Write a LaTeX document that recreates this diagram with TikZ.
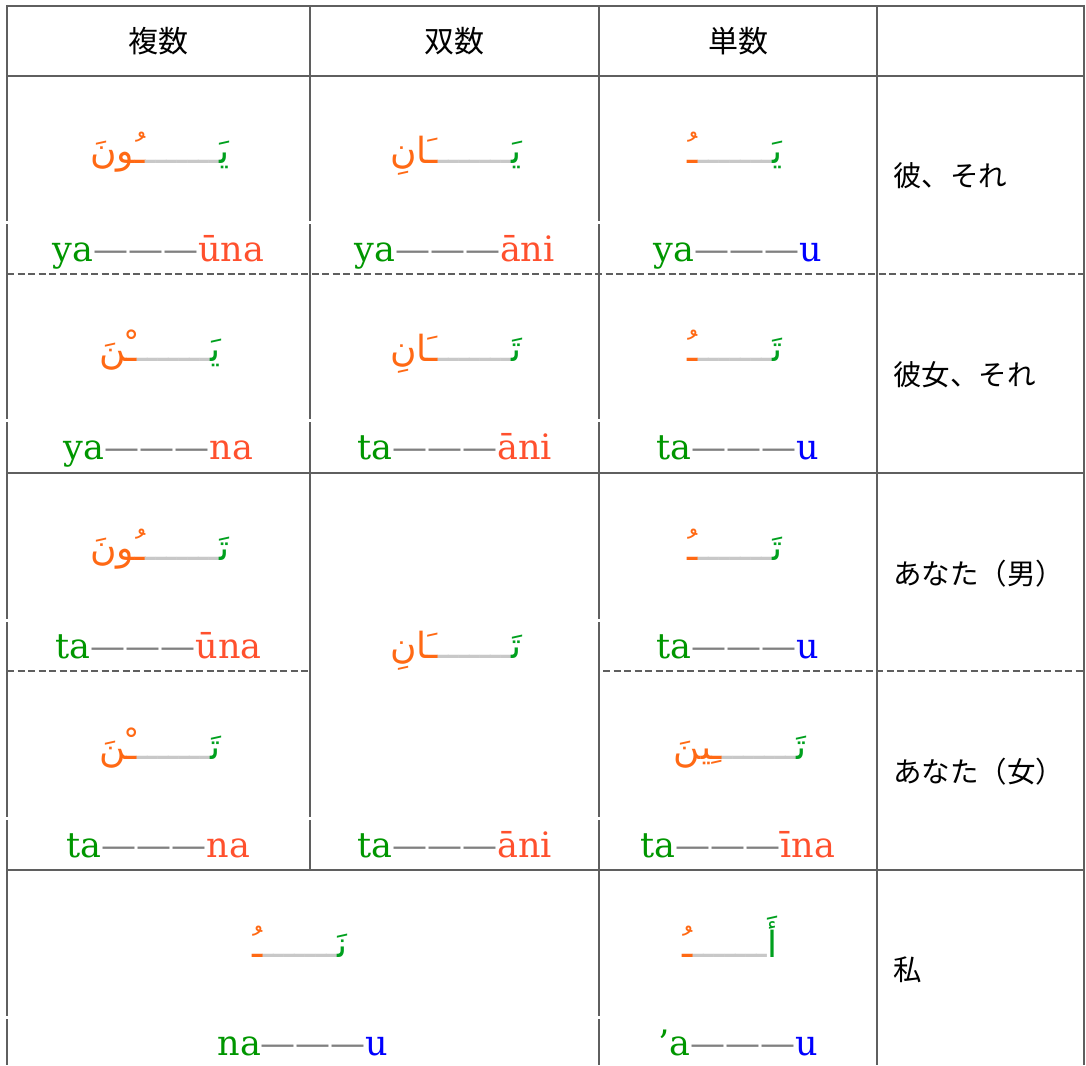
\documentclass[tikz,border=0pt]{standalone}
\usepackage{fontspec}
\usepackage{xcolor}
\newfontfamily\jpfont{Noto Sans CJK JP}
\newfontfamily\arabfont[Script=Arabic]{DejaVu Sans}
\newfontfamily\trfont{DejaVu Serif}
\definecolor{tgreen}{RGB}{0,150,0}
\definecolor{tred}{RGB}{255,80,45}
\definecolor{tblue}{RGB}{0,0,255}
\definecolor{dashgray}{RGB}{128,128,128}
\definecolor{agreen}{RGB}{0,160,30}
\definecolor{aorange}{RGB}{255,105,20}
\definecolor{tatgray}{RGB}{200,200,200}
\definecolor{rulegray}{RGB}{95,95,95}
\newcommand{\arabcell}[2]{\hbox{\textcolor{aorange}{#2}}\hbox{\textcolor{tatgray}{ـــــــ}}\hbox{\textcolor{agreen}{#1}}}
\newcommand{\translit}[3]{\textcolor{tgreen}{#1}\textcolor{dashgray}{———}\textcolor{#3}{#2}}
\tikzset{
  ruleline/.style={draw=rulegray, line width=2pt},
  druleline/.style={ruleline, line width=2.4pt, dash pattern=on 7pt off 3.5pt},
  hdr/.style={font=\jpfont\fontsize{30}{32}\selectfont, inner sep=0pt},
  lbl/.style={font=\jpfont\fontsize{28.5}{30}\selectfont, inner sep=0pt, anchor=west},
  trans/.style={font=\trfont\fontsize{35}{38}\selectfont, inner sep=0pt, anchor=base},
  arab/.style={font=\arabfont\fontsize{36}{38}\selectfont, inner sep=0pt, anchor=base},
  gapw/.style={fill=white, draw=none},
}
\begin{document}
\begin{tikzpicture}[x=1pt,y=-1pt]
\useasboundingbox (0,0) rectangle (1086,1065);
% grid
\draw[ruleline] (7,6) -- (1084,6);
\draw[ruleline] (7,76) -- (1084,76);
\draw[ruleline] (7,473) -- (1084,473);
\draw[ruleline] (7,870) -- (1084,870);
\draw[druleline] (7,274) -- (1084,274);
\draw[druleline] (7,671) -- (310,671);
\draw[druleline] (603,671) -- (1084,671);
\draw[ruleline] (7,5) -- (7,1065);
\draw[ruleline] (1084,5) -- (1084,1065);
\draw[ruleline] (310,6) -- (310,870);
\draw[ruleline] (599,6) -- (599,1065);
\draw[ruleline] (877,6) -- (877,1065);
% small breaks in the vertical rules
\foreach \gx/\gy in {7/222,310/222,599/222,7/420,310/420,599/420,7/620,599/620,7/818,310/818,599/818,7/1017,599/1017}
  \fill[gapw] (\gx-2,\gy-1.5) rectangle (\gx+2,\gy+1.5);
% header
\node[hdr] (h1) at (158.5,41) {複数};
\node[hdr] (h2) at (454.5,41) {双数};
\node[hdr] (h3) at (738,41) {単数};
% labels
\node[lbl] (l1) at (893,176) {彼、それ};
\node[lbl] (l2) at (893,375) {彼女、それ};
\node[lbl] (l3) at (893,574) {あなた（男）};
\node[lbl] (l4) at (893,772) {あなた（女）};
\node[lbl] (l5) at (893,970) {私};
% row 1
\node[arab] (a11) at (160,163) {\arabcell{يَ^^^^200d}{ـُونَ}};
\node[arab] (a12) at (456,163) {\arabcell{يَ^^^^200d}{ـَانِ}};
\node[arab] (a13) at (735,163) {\arabcell{يَ^^^^200d}{ـُ}};
\node[trans] (t11) at (158.5,261) {\translit{ya}{ūna}{tred}};
\node[trans] (t12) at (454.5,261) {\translit{ya}{āni}{tred}};
\node[trans] (t13) at (738,261) {\translit{ya}{u}{tblue}};
% row 2
\node[arab] (a21) at (160,361) {\arabcell{يَ^^^^200d}{ـْنَ}};
\node[arab] (a22) at (456,361) {\arabcell{تَ^^^^200d}{ـَانِ}};
\node[arab] (a23) at (735,361) {\arabcell{تَ^^^^200d}{ـُ}};
\node[trans] (t21) at (158.5,459) {\translit{ya}{na}{tred}};
\node[trans] (t22) at (454.5,459) {\translit{ta}{āni}{tred}};
\node[trans] (t23) at (738,459) {\translit{ta}{u}{tblue}};
% row 3
\node[arab] (a31) at (160,560) {\arabcell{تَ^^^^200d}{ـُونَ}};
\node[arab] (a32) at (456,658) {\arabcell{تَ^^^^200d}{ـَانِ}};
\node[arab] (a33) at (735,560) {\arabcell{تَ^^^^200d}{ـُ}};
\node[trans] (t31) at (158.5,658) {\translit{ta}{ūna}{tred}};
\node[trans] (t33) at (738,658) {\translit{ta}{u}{tblue}};
% row 4
\node[arab] (a41) at (160,759) {\arabcell{تَ^^^^200d}{ـْنَ}};
\node[arab] (a43) at (740,759) {\arabcell{تَ^^^^200d}{ـِينَ}};
\node[trans] (t41) at (158.5,857) {\translit{ta}{na}{tred}};
\node[trans] (t32) at (454.5,857) {\translit{ta}{āni}{tred}};
\node[trans] (t43) at (738,857) {\translit{ta}{īna}{tred}};
% row 5
\node[arab] (a51) at (300,957) {\arabcell{نَ^^^^200d}{ـُ}};
\node[arab] (a53) at (730,957) {\arabcell{أَ}{ـُ}};
\node[trans] (t51) at (303,1055) {\translit{na}{u}{tblue}};
\node[trans] (t53) at (738,1055) {\translit{’a}{u}{tblue}};
\end{tikzpicture}
\end{document}
